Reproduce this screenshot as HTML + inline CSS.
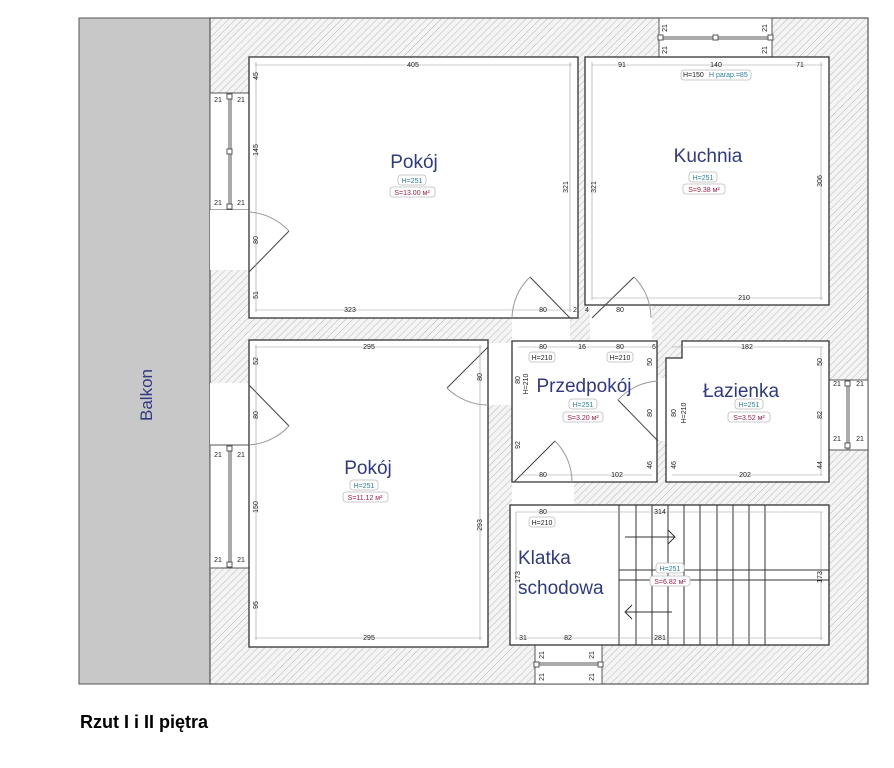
<!DOCTYPE html>
<html><head><meta charset="utf-8"><style>
body{margin:0;background:#fff;width:894px;height:768px;overflow:hidden}
svg{display:block}
.d{font:7px "Liberation Sans",sans-serif;fill:#222}
.r{font:19px "Liberation Sans",sans-serif;fill:#2f3a80}
.h{font:7px "Liberation Sans",sans-serif;fill:#2a7f9a}
.s{font:7px "Liberation Sans",sans-serif;fill:#a02040}
.dl{stroke:#999;stroke-width:0.6;fill:none}
</style></head><body>
<svg width="894" height="768" viewBox="0 0 894 768">
<defs>
<pattern id="hp" width="5" height="5" patternUnits="userSpaceOnUse" patternTransform="rotate(45)">
<rect width="5" height="5" fill="#f4f4f4"/><line x1="0" y1="0" x2="0" y2="5" stroke="#b8b8b8" stroke-width="1"/>
</pattern>
</defs>
<!-- balcony -->
<rect x="79" y="18" width="131" height="666" fill="#c8c8c8" stroke="#555" stroke-width="1"/>
<text x="152" y="395" transform="rotate(-90 152 395)" class="r" style="font-size:17px" text-anchor="middle">Balkon</text>
<!-- building walls -->
<rect x="210" y="18" width="658" height="666" fill="url(#hp)" stroke="#555" stroke-width="1.2"/>
<!-- openings -->
<g fill="#fff" stroke="#555" stroke-width="1">
<rect x="210" y="93" width="39" height="117"/>
<rect x="210" y="210" width="39" height="60" stroke="none"/>
<rect x="210" y="383" width="39" height="62" stroke="none"/>
<rect x="210" y="445" width="39" height="123"/>
<rect x="659" y="18" width="113" height="39"/>
<rect x="829" y="380" width="39" height="70"/>
<rect x="535" y="645" width="67" height="39"/>
<rect x="488" y="343" width="24" height="62" stroke="none"/>
<rect x="512" y="305" width="58" height="36" stroke="none"/>
<rect x="590" y="305" width="62" height="36" stroke="none"/>
<rect x="512" y="482" width="62" height="23" stroke="none"/>
<rect x="657" y="378" width="9" height="63" stroke="none"/>
</g>
<!-- rooms -->
<g fill="#fff" stroke="#333" stroke-width="1.3">
<rect x="249" y="57" width="329" height="261"/>
<rect x="585" y="57" width="244" height="248"/>
<rect x="249" y="340" width="239" height="307"/>
<path d="M512 341 H657 V482 H512 Z"/>
<path d="M682 341 H829 V482 H666 V358 H682 Z"/>
<rect x="510" y="505" width="319" height="140"/>
</g>
<!-- window frames -->
<g stroke="#555" stroke-width="1" fill="#fff">
<line x1="229" y1="93" x2="229" y2="210"/><line x1="231" y1="93" x2="231" y2="210"/>
<rect x="227" y="94" width="5" height="5"/><rect x="227" y="149" width="5" height="5"/><rect x="227" y="204" width="5" height="5"/>
<line x1="229" y1="445" x2="229" y2="568"/><line x1="231" y1="445" x2="231" y2="568"/>
<rect x="227" y="446" width="5" height="5"/><rect x="227" y="562" width="5" height="5"/>
<line x1="659" y1="37" x2="772" y2="37"/><line x1="659" y1="39" x2="772" y2="39"/>
<rect x="658" y="35" width="5" height="5"/><rect x="713" y="35" width="5" height="5"/><rect x="768" y="35" width="5" height="5"/>
<line x1="847" y1="380" x2="847" y2="450"/><line x1="849" y1="380" x2="849" y2="450"/>
<rect x="845" y="381" width="5" height="5"/><rect x="845" y="443" width="5" height="5"/>
<line x1="535" y1="663" x2="602" y2="663"/><line x1="535" y1="665" x2="602" y2="665"/>
<rect x="534" y="662" width="5" height="5"/><rect x="598" y="662" width="5" height="5"/>
</g>
<!-- doors -->
<g stroke="#444" stroke-width="1" fill="none">
<line x1="249" y1="272" x2="289" y2="231"/><path d="M249 212 A60 60 0 0 1 289 231" stroke="#999"/>
<line x1="249" y1="385" x2="289" y2="426"/><path d="M249 445 A60 60 0 0 0 289 426" stroke="#999"/>
<line x1="488" y1="347" x2="447" y2="388"/><path d="M488 405 A58 58 0 0 1 447 388" stroke="#999"/>
<line x1="570" y1="318" x2="530" y2="277"/><path d="M512 318 A58 58 0 0 1 530 277" stroke="#999"/>
<line x1="592" y1="318" x2="634" y2="277"/><path d="M651 318 A58 58 0 0 0 634 277" stroke="#999"/>
<line x1="658" y1="441" x2="618" y2="400"/><path d="M658 381 A58 58 0 0 0 618 400" stroke="#999"/>
<line x1="514" y1="482" x2="555" y2="441"/><path d="M572 482 A58 58 0 0 0 555 441" stroke="#999"/>
</g>
<!-- stairs -->
<g stroke="#333" stroke-width="1">
<line x1="619" y1="505" x2="619" y2="645"/>
<line x1="619" y1="570" x2="829" y2="570"/><line x1="619" y1="580" x2="829" y2="580"/>
<line x1="636" y1="505" x2="636" y2="645"/><line x1="652" y1="505" x2="652" y2="645"/><line x1="668" y1="505" x2="668" y2="645"/>
<line x1="684" y1="505" x2="684" y2="645"/><line x1="700" y1="505" x2="700" y2="645"/><line x1="717" y1="505" x2="717" y2="645"/>
<line x1="733" y1="505" x2="733" y2="645"/><line x1="749" y1="505" x2="749" y2="645"/><line x1="765" y1="505" x2="765" y2="645"/>
<path d="M625 537 H675 M668 530 L675 537 L668 544" fill="none"/>
<path d="M672 612 H625 M632 605 L625 612 L632 619" fill="none"/>
</g>
<!-- dimension lines -->
<g class="dl">
<line x1="255" y1="65" x2="572" y2="65"/><line x1="256" y1="62" x2="256" y2="312"/><line x1="570" y1="62" x2="570" y2="312"/>
<line x1="255" y1="310" x2="572" y2="310"/><line x1="592" y1="65" x2="823" y2="65"/><line x1="592" y1="62" x2="592" y2="300"/>
<line x1="821" y1="62" x2="821" y2="300"/><line x1="592" y1="298" x2="823" y2="298"/>
<line x1="255" y1="347" x2="482" y2="347"/><line x1="256" y1="345" x2="256" y2="640"/><line x1="480" y1="345" x2="480" y2="640"/>
<line x1="255" y1="638" x2="482" y2="638"/><line x1="518" y1="347" x2="652" y2="347"/><line x1="518" y1="475" x2="652" y2="475"/>
<line x1="672" y1="347" x2="823" y2="347"/><line x1="672" y1="475" x2="823" y2="475"/><line x1="821" y1="347" x2="821" y2="475"/>
<line x1="516" y1="512" x2="823" y2="512"/><line x1="516" y1="638" x2="823" y2="638"/><line x1="516" y1="512" x2="516" y2="640"/><line x1="821" y1="512" x2="821" y2="640"/>
</g>
<g class="d" text-anchor="middle">
<text x="413" y="67">405</text><text x="350" y="312">323</text>
<text x="622" y="67">91</text><text x="716" y="67">140</text><text x="800" y="67">71</text><text x="744" y="300">210</text>
<text x="369" y="349">295</text><text x="369" y="640">295</text>
<text x="543" y="312">80</text><text x="575" y="312">2</text><text x="587" y="312">4</text><text x="620" y="312">80</text>
<text x="543" y="349">80</text><text x="582" y="349">16</text><text x="620" y="349">80</text><text x="654" y="349">6</text>
<text x="543" y="477">80</text><text x="617" y="477">102</text><text x="747" y="349">182</text><text x="745" y="477">202</text>
<text x="543" y="514">80</text><text x="660" y="514">314</text><text x="523" y="640">31</text><text x="568" y="640">82</text><text x="660" y="640">281</text>
<text x="218" y="102">21</text><text x="241" y="102">21</text><text x="218" y="205">21</text><text x="241" y="205">21</text>
<text x="218" y="457">21</text><text x="241" y="457">21</text><text x="218" y="562">21</text><text x="241" y="562">21</text>
<text x="837" y="386">21</text><text x="860" y="386">21</text><text x="837" y="441">21</text><text x="860" y="441">21</text>
</g>
<g class="d" text-anchor="middle">
<text transform="translate(258,76) rotate(-90)">45</text><text transform="translate(258,150) rotate(-90)">145</text>
<text transform="translate(258,240) rotate(-90)">80</text><text transform="translate(258,295) rotate(-90)">51</text>
<text transform="translate(568,187) rotate(-90)">321</text><text transform="translate(596,187) rotate(-90)">321</text>
<text transform="translate(822,181) rotate(-90)">306</text>
<text transform="translate(258,361) rotate(-90)">52</text><text transform="translate(258,415) rotate(-90)">80</text>
<text transform="translate(258,507) rotate(-90)">150</text><text transform="translate(258,605) rotate(-90)">95</text>
<text transform="translate(482,525) rotate(-90)">293</text><text transform="translate(482,377) rotate(-90)">80</text>
<text transform="translate(520,380) rotate(-90)">80</text><text transform="translate(520,445) rotate(-90)">92</text>
<text transform="translate(652,362) rotate(-90)">50</text><text transform="translate(652,413) rotate(-90)">80</text>
<text transform="translate(652,465) rotate(-90)">46</text><text transform="translate(676,413) rotate(-90)">80</text>
<text transform="translate(676,465) rotate(-90)">46</text><text transform="translate(822,362) rotate(-90)">50</text>
<text transform="translate(822,415) rotate(-90)">82</text><text transform="translate(822,465) rotate(-90)">44</text>
<text transform="translate(520,577) rotate(-90)">173</text><text transform="translate(822,577) rotate(-90)">173</text>
<text transform="translate(667,28) rotate(-90)">21</text><text transform="translate(767,28) rotate(-90)">21</text>
<text transform="translate(667,50) rotate(-90)">21</text><text transform="translate(767,50) rotate(-90)">21</text>
<text transform="translate(544,655) rotate(-90)">21</text><text transform="translate(594,655) rotate(-90)">21</text>
<text transform="translate(544,677) rotate(-90)">21</text><text transform="translate(594,677) rotate(-90)">21</text>
</g>
<!-- labels -->
<g fill="#fff" stroke="#bbb" stroke-width="0.8">
<rect x="398" y="175" width="28" height="10" rx="3"/><rect x="390" y="187" width="45" height="10" rx="3"/>
<rect x="689" y="172" width="28" height="10" rx="3"/><rect x="683" y="184" width="42" height="10" rx="3"/>
<rect x="350" y="480" width="28" height="10" rx="3"/><rect x="343" y="492" width="45" height="10" rx="3"/>
<rect x="569" y="399" width="28" height="10" rx="3"/><rect x="563" y="412" width="40" height="10" rx="3"/>
<rect x="735" y="399" width="28" height="10" rx="3"/><rect x="728" y="412" width="42" height="10" rx="3"/>
<rect x="656" y="563" width="28" height="10" rx="3"/><rect x="650" y="576" width="40" height="10" rx="3"/>
<rect x="681" y="70" width="70" height="10" rx="3"/>
<rect x="529" y="352" width="26" height="10" rx="3"/><rect x="607" y="352" width="26" height="10" rx="3"/>
<rect x="529" y="517" width="26" height="10" rx="3"/>
</g>
<text x="414" y="168" class="r" text-anchor="middle">Pokój</text>
<text x="708" y="162" class="r" text-anchor="middle">Kuchnia</text>
<text x="368" y="474" class="r" text-anchor="middle">Pokój</text>
<text x="584" y="392" class="r" text-anchor="middle">Przedpokój</text>
<text x="741" y="397" class="r" text-anchor="middle">Łazienka</text>
<text x="518" y="564" class="r">Klatka</text>
<text x="518" y="594" class="r">schodowa</text>
<g text-anchor="middle">
<text x="412" y="183" class="h">H=251</text><text x="412" y="195" class="s">S=13.00 м²</text>
<text x="703" y="180" class="h">H=251</text><text x="704" y="192" class="s">S=9.38 м²</text>
<text x="364" y="488" class="h">H=251</text><text x="365" y="500" class="s">S=11.12 м²</text>
<text x="583" y="407" class="h">H=251</text><text x="583" y="420" class="s">S=3.20 м²</text>
<text x="749" y="407" class="h">H=251</text><text x="749" y="420" class="s">S=3.52 м²</text>
<text x="670" y="571" class="h">H=251</text><text x="670" y="584" class="s">S=6.82 м²</text>
<text x="542" y="360" class="d">H=210</text><text x="620" y="360" class="d">H=210</text><text x="542" y="525" class="d">H=210</text>
</g>
<text x="683" y="77" class="d">H=150</text><text x="709" y="77" class="h">H parap.=85</text>
<text transform="translate(528,384) rotate(-90)" class="d" text-anchor="middle">H=210</text>
<text transform="translate(686,413) rotate(-90)" class="d" text-anchor="middle">H=210</text>
<text x="80" y="728" style="font:bold 18px 'Liberation Sans',sans-serif;fill:#000">Rzut I i II piętra</text>
</svg>
</body></html>
